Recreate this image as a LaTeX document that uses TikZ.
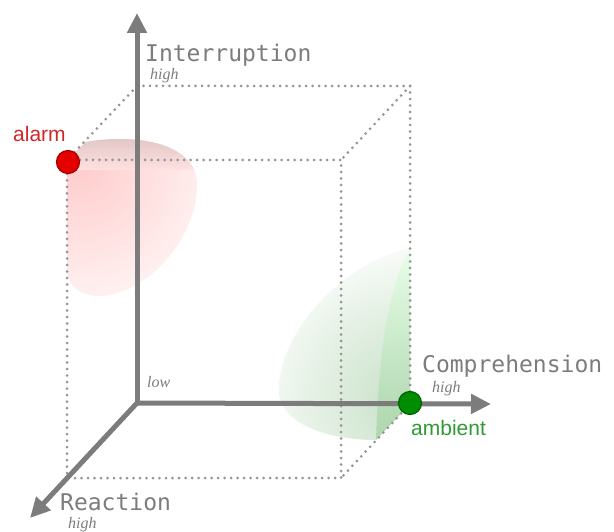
\documentclass[tikz,border=0pt]{standalone}
\usepackage{fontspec}
\newfontfamily\axisfont{DejaVu Sans Mono}
\newfontfamily\tagfont{Liberation Sans}
\newfontfamily\levelfont{Liberation Serif}
\usetikzlibrary{arrows.meta}
\definecolor{axisgray}{HTML}{7C7C7C}
\definecolor{dotgray}{HTML}{959595}
\definecolor{alarmred}{HTML}{D02828}
\definecolor{ambgreen}{HTML}{2F9A35}

\begin{document}
\begin{tikzpicture}[x=1pt, y=-1pt,
  axis/.style={draw=axisgray, line width=5pt, -{Triangle[length=20pt,width=19pt]}},
  edge/.style={dotgray, line width=3pt, line cap=round, dash pattern=on 0pt off 6.5pt},
  axislabel/.style={font=\axisfont\fontsize{23}{23}\selectfont, text=axisgray, inner sep=0pt},
  level/.style={font=\levelfont\itshape\fontsize{16}{16}\selectfont, text=axisgray, inner sep=0pt},
  blob/.style={circle, draw=#1!70!black, line width=1.2pt, fill=#1, minimum width=23pt, inner sep=0pt},
  tag/.style={font=\tagfont\fontsize{21}{21}\selectfont, inner sep=0pt}
]
\useasboundingbox (0,0) rectangle (614,532);

% axes end points and box corners
\coordinate (O) at (137,403);
\coordinate (itip) at (137,13);
\coordinate (ctip) at (491,404);
\coordinate (rtip) at (30,518);
\coordinate (bt) at (137,86);
\coordinate (btr) at (410,86);
\coordinate (br) at (410,404);
\coordinate (ftl) at (67,160);
\coordinate (ftr) at (341,160);
\coordinate (fbl) at (67,478);
\coordinate (fbr) at (341,478);

% red region
\begin{scope}
  \clip (67,160) -- (86,142) .. controls (130,134) and (197,140) .. (197,185)
    .. controls (197,240) and (145,296) .. (98,296)
    .. controls (80,296) and (67,285) .. (67,270) -- cycle;
  \shade[inner color=red!20, outer color=white] (80,165) circle (185);
  \shade[top color=red!30!gray!35, bottom color=red!12] (60,136) rectangle (200,170);
\end{scope}

% green region
\begin{scope}
  \clip (410,404) -- (410,248) .. controls (345,262) and (279,330) .. (279,390)
    .. controls (279,425) and (330,440) .. (376,440) -- cycle;
  \shade[inner color=green!45!black!22, outer color=white] (405,400) circle (170);
\end{scope}
\shade[top color=green!10, bottom color=green!50!black!35, opacity=0.8]
  (410,250) -- (410,404) -- (376,440) .. controls (378,380) and (384,290) .. (410,250);

% dotted cube
\draw[edge] (bt) -- (btr) -- (br);
\draw[edge] (btr) -- (ftr);
\draw[edge] (bt) -- (ftl);
\draw[edge] (ftl) -- (ftr) -- (fbr) -- (fbl) -- (ftl);
\draw[edge] (br) -- (fbr);

% axes
\draw[axis] (O) -- (itip);
\draw[axis] (O) -- (ctip);
\draw[axis] (O) -- (rtip);

\node[axislabel, anchor=base west] (inter) at (145,62) {Interruption};
\node[level, anchor=base west] (ihigh) at (150,80) {high};
\node[axislabel, anchor=base west] (compr) at (422,372) {Comprehension};
\node[level, anchor=base west] (chigh) at (432,392) {high};
\node[axislabel, anchor=base west] (react) at (60,510) {Reaction};
\node[level, anchor=base west] (rhigh) at (68,528) {high};
\node[level, anchor=base west] (low) at (147,387) {low};

% the two messages
\node[blob=red!90!black] (alarm) at (68,162) {};
\node[tag, text=alarmred, anchor=base west] (alarmtxt) at (13,142) {alarm};
\node[blob=green!55!black] (ambient) at (410,403) {};
\node[tag, text=ambgreen, anchor=base west] (ambtxt) at (411,435) {ambient};
\end{tikzpicture}
\end{document}
